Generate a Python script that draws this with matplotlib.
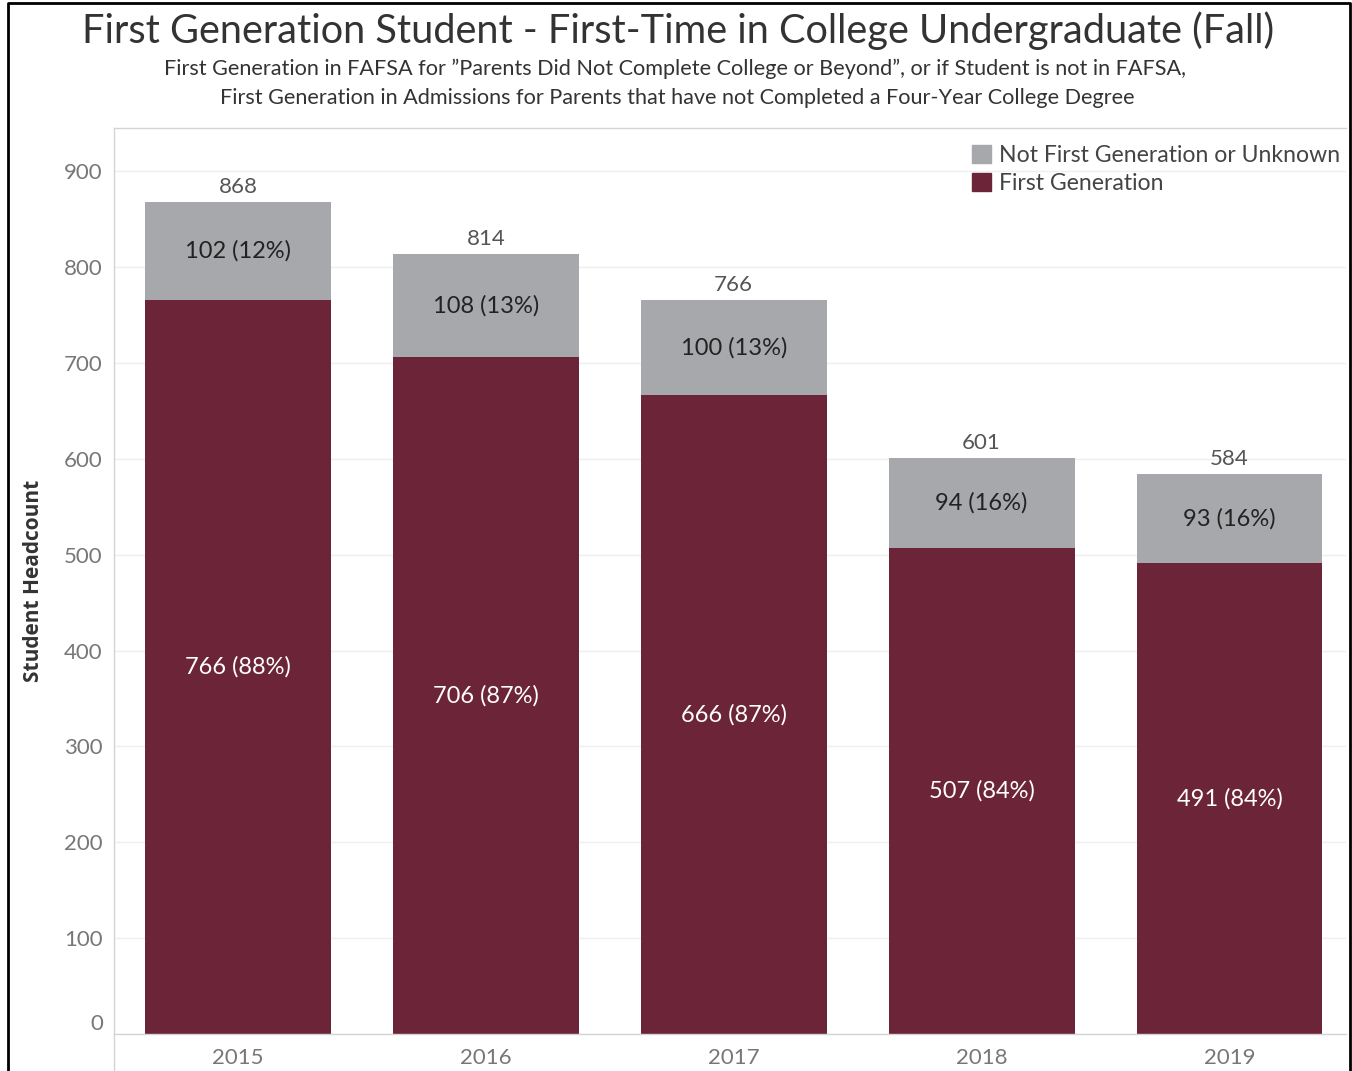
import matplotlib.pyplot as plt
from matplotlib.lines import Line2D
from matplotlib.patches import Patch
import numpy as np

years = ["2015", "2016", "2017", "2018", "2019"]
first_gen = [766, 706, 666, 507, 491]
not_first = [102, 108, 100, 94, 93]
y_ticks = [0, 100, 200, 300, 400, 500, 600, 700, 800, 900]

MAROON = "#6C2438"
GRAY = "#A7A8AB"

plt.rcParams["font.family"] = ["Lato", "DejaVu Sans"]

W, H = 1352, 1071
fig = plt.figure(figsize=(W / 100, H / 100), dpi=100)
fig.patch.set_facecolor("white")

# plot area in pixel terms
left, right, top, bottom = 114, 1346, 128, 1034
ax = fig.add_axes([left / W, 1 - bottom / H, (right - left) / W, (bottom - top) / H])

x = np.arange(len(years))
totals = [a + b for a, b in zip(first_gen, not_first)]
width = 0.75

ax.bar(x, first_gen, width, color=MAROON, zorder=2)
ax.bar(x, not_first, width, bottom=first_gen, color=GRAY, zorder=2)

for i in range(len(years)):
    t = totals[i]
    fg, nf = first_gen[i], not_first[i]
    ax.text(x[i], fg / 2, f"{fg} ({round(fg / t * 100)}%)", ha="center", va="center",
            color="white", fontsize=17)
    ax.text(x[i], fg + nf / 2, f"{nf} ({round(nf / t * 100)}%)", ha="center", va="center",
            color="#222222", fontsize=17)
    ax.text(x[i], t + 5, str(t), ha="center", va="bottom", color="#555555", fontsize=16)

ax.set_xlim(-0.5, 4.47)
ax.set_ylim(0, 945)
ax.set_yticks(y_ticks)
ax.set_xticks(x)
ax.set_xticklabels(years)
ax.tick_params(axis="both", length=0, labelsize=16, labelcolor="#777777")
ax.tick_params(axis="y", pad=8)
ax.tick_params(axis="x", pad=10)
ax.get_yticklabels()[0].set_va("bottom")
ax.yaxis.grid(True, color="#EFEFEF", linewidth=1, zorder=0)
ax.set_axisbelow(True)

ax.spines["right"].set_visible(False)
for side in ["left", "top", "bottom"]:
    ax.spines[side].set_color("#D4D4D4")
    ax.spines[side].set_linewidth(1)

ax.set_ylabel("Student Headcount", fontsize=15, fontweight="bold", color="#333333",
              family=["Open Sans", "DejaVu Sans"])
ax.yaxis.set_label_coords(-0.057, 0.5)

# pane divider running under the x labels
fig.add_artist(Line2D([left / W, left / W], [0, 1 - bottom / H], color="#D4D4D4", linewidth=1))

handles = [Patch(color=GRAY, label="Not First Generation or Unknown"),
           Patch(color=MAROON, label="First Generation")]
leg = fig.legend(handles=handles, loc="upper left", bbox_to_anchor=(960 / W, 1 - 133 / H),
                 frameon=False, fontsize=16.6, handlelength=0.85, handleheight=0.85,
                 handletextpad=0.35, labelspacing=0.3, borderpad=0)
for txt in leg.get_texts():
    txt.set_color("#444444")

fig.text(678 / W, 1 - 31 / H, "First Generation Student - First-Time in College Undergraduate (Fall)",
         ha="center", va="center", fontsize=28.6, color="#333333")
fig.text(675 / W, 1 - 69 / H,
         "First Generation in FAFSA for \u201dParents Did Not Complete College or Beyond\u201d, or if Student is not in FAFSA,",
         ha="center", va="center", fontsize=15.6, color="#333333")
fig.text(677 / W, 1 - 98 / H,
         "First Generation in Admissions for Parents that have not Completed a Four-Year College Degree",
         ha="center", va="center", fontsize=15.6, color="#333333")

# outer frame (left, top, right)
bx0, bx1, by = 7.5 / W, 1349.5 / W, 1 - 3 / H
fig.add_artist(Line2D([bx0, bx0, bx1, bx1], [0, by, by, 0], color="black", linewidth=2))

fig.savefig("out.png", dpi=100)
